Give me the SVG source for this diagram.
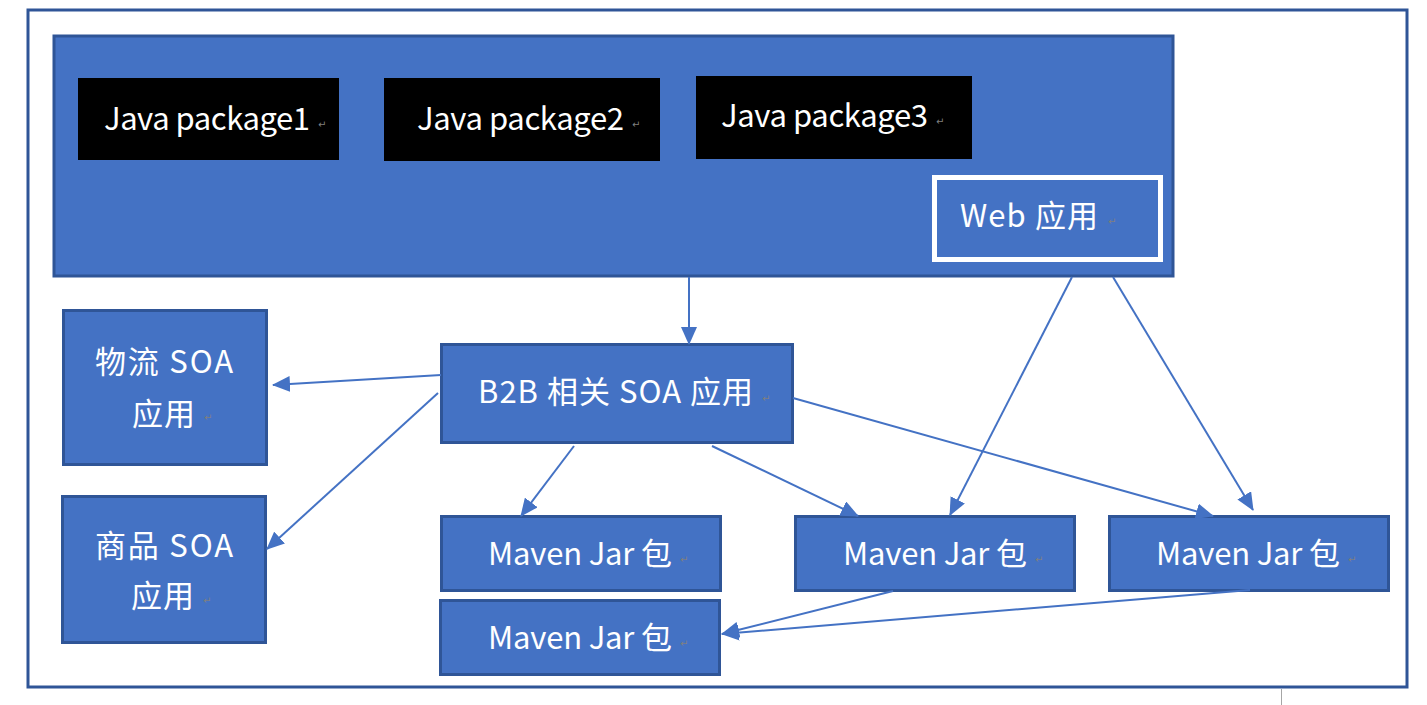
<svg xmlns="http://www.w3.org/2000/svg" width="1427" height="705" viewBox="0 0 1427 705">
<defs>
<style>
.box{fill:#4472C4;stroke:#2F5597;stroke-width:3}
.pkg{fill:#000}
.t{font-family:"Noto Sans CJK SC","Microsoft YaHei",sans-serif;font-size:31px;fill:#fff}
.pm{font-family:"DejaVu Sans",sans-serif;font-size:10px;fill:#7f7f7f}
.c{stroke:#4472C4;stroke-width:2;fill:none;marker-end:url(#ah)}
</style>
<marker id="ah" markerUnits="userSpaceOnUse" markerWidth="18" markerHeight="16" refX="17" refY="8" orient="auto">
<path d="M0,0 L18,8 L0,16 Z" fill="#4472C4"/>
</marker>
</defs>
<rect width="1427" height="705" fill="#fff"/>
<rect x="28" y="10" width="1379" height="677" fill="#fff" stroke="#2F5597" stroke-width="3"/>
<line x1="1281.5" y1="689" x2="1281.5" y2="705" stroke="#a6a6a6" stroke-width="1"/>

<g id="web-container">
<rect class="box" x="54" y="36" width="1119" height="240"/>
</g>
<g id="pkg1">
<rect class="pkg" x="78" y="78" width="261" height="82"/>
<text class="t" x="104" y="130" textLength="206">Java package1</text>
<text class="pm" x="318" y="128">↵</text>
</g>
<g id="pkg2">
<rect class="pkg" x="384" y="78" width="276" height="83"/>
<text class="t" x="417" y="130" textLength="207">Java package2</text>
<text class="pm" x="632" y="128">↵</text>
</g>
<g id="pkg3">
<rect class="pkg" x="696" y="76" width="276" height="83"/>
<text class="t" x="721" y="127" textLength="207">Java package3</text>
<text class="pm" x="936" y="125">↵</text>
</g>
<g id="web">
<rect x="934.5" y="177.5" width="226" height="82" fill="#4472C4" stroke="#fff" stroke-width="5"/>
<text class="t" x="960" y="227" textLength="138">Web 应用</text>
<text class="pm" x="1108" y="225">↵</text>
</g>

<g id="logistics">
<rect class="box" x="63.5" y="310.5" width="203" height="154"/>
<text class="t" x="95" y="373" textLength="138">物流 SOA</text>
<text class="t" x="132" y="425" textLength="63">应用</text>
<text class="pm" x="204" y="421">↵</text>
</g>
<g id="goods">
<rect class="box" x="62.5" y="496.5" width="203" height="146"/>
<text class="t" x="95" y="557" textLength="138">商品 SOA</text>
<text class="t" x="131" y="607" textLength="63">应用</text>
<text class="pm" x="203" y="604">↵</text>
</g>
<g id="b2b">
<rect class="box" x="441.5" y="344.5" width="351" height="98"/>
<text class="t" x="478" y="403" textLength="275">B2B 相关 SOA 应用</text>
<text class="pm" x="762" y="402">↵</text>
</g>
<g id="maven1">
<rect class="box" x="441.5" y="516.5" width="279" height="74"/>
<text class="t" x="488" y="565" textLength="184">Maven Jar 包</text>
<text class="pm" x="680" y="563">↵</text>
</g>
<g id="maven2">
<rect class="box" x="795.5" y="516.5" width="279" height="74"/>
<text class="t" x="843" y="565" textLength="184">Maven Jar 包</text>
<text class="pm" x="1035" y="563">↵</text>
</g>
<g id="maven3">
<rect class="box" x="1109.5" y="516.5" width="279" height="74"/>
<text class="t" x="1156" y="565" textLength="184">Maven Jar 包</text>
<text class="pm" x="1348" y="563">↵</text>
</g>
<g id="maven4">
<rect class="box" x="440.5" y="600.5" width="279" height="74"/>
<text class="t" x="488" y="649" textLength="184">Maven Jar 包</text>
<text class="pm" x="680" y="647">↵</text>
</g>

<g id="connectors">
<line class="c" x1="689" y1="277" x2="689" y2="344"/>
<line class="c" x1="441" y1="375" x2="273" y2="385"/>
<line class="c" x1="438" y1="393" x2="267" y2="549"/>
<line class="c" x1="574" y1="446" x2="521" y2="516"/>
<line class="c" x1="712" y1="446" x2="858" y2="516"/>
<line class="c" x1="793" y1="398" x2="1213" y2="516"/>
<line class="c" x1="1072" y1="277" x2="950" y2="515"/>
<line class="c" x1="1113" y1="277" x2="1253" y2="510"/>
<line class="c" x1="893" y1="591" x2="722" y2="634"/>
<line class="c" x1="1250" y1="590" x2="722" y2="634"/>
</g>
</svg>
